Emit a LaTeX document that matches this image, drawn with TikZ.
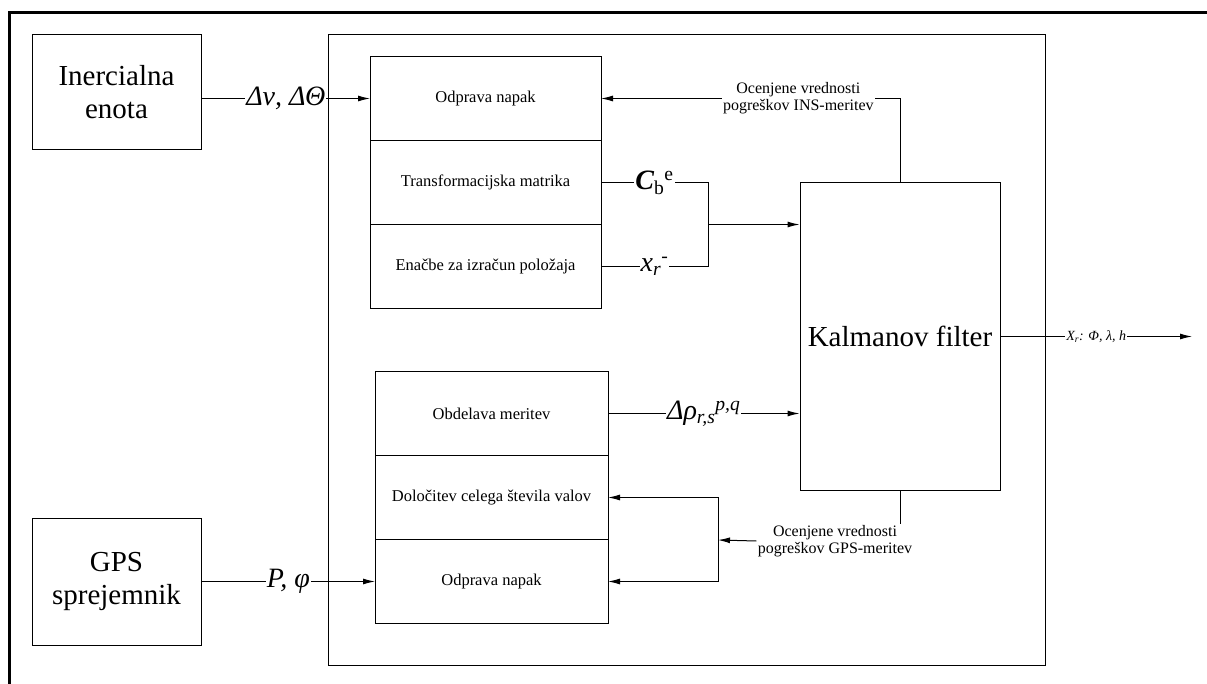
\documentclass[tikz,border=0pt]{standalone}
\usepackage{fontspec}
\setmainfont{Liberation Serif}
\usetikzlibrary{positioning,arrows.meta}

\tikzset{
  vhod/.style={draw, minimum width=169pt, align=center, font=\fontsize{29}{33}\selectfont},
  blok/.style={draw, outer sep=0pt, minimum height=84pt, font=\fontsize{16.5}{19}\selectfont},
  oznaka/.style={fill=white, inner sep=1pt, font=\fontsize{28}{32}\selectfont\itshape},
  opomba/.style={fill=white, inner sep=1pt, align=center, font=\fontsize{16}{17}\selectfont},
}

\begin{document}
\begin{tikzpicture}[x=1pt, y=-1pt, line width=1pt, >={Latex[length=12pt,width=6pt]}]
  \useasboundingbox (0,0) rectangle (1207,684);
  \draw[line width=3pt] (9,684) -- (9,13) -- (1207,13);

  \node(ine)[vhod, minimum height=115pt] at (116.5,92.5) {Inercialna\\enota};
  \node(gps)[vhod, minimum height=127pt] at (116.5,581.5) {GPS\\sprejemnik};
  \node(sis)[draw, minimum width=717pt, minimum height=630pt] at (686.5,350) {};

  \node(ins1)[blok, minimum width=231pt] at (485.5,98.5) {Odprava napak};
  \node(ins2)[blok, minimum width=231pt, below=0pt of ins1] {Transformacijska matrika};
  \node(ins3)[blok, minimum width=231pt, below=0pt of ins2] {Enačbe za izračun položaja};

  \node(gps1)[blok, minimum width=233pt] at (491.5,413.5) {Obdelava meritev};
  \node(gps2)[blok, minimum width=233pt, below=0pt of gps1] {Določitev celega števila valov};
  \node(gps3)[blok, minimum width=233pt, below=0pt of gps2] {Odprava napak};

  \node(kal)[draw, minimum width=200pt, minimum height=307pt, font=\fontsize{29}{32}\selectfont] at (900,336.5) {Kalmanov filter};
  \node(gfb)[opomba] at (835,541) {Ocenjene vrednosti\\pogreškov GPS-meritev};

  \coordinate(jn) at (708,224.5);
  \coordinate(jg) at (718,540);
  \coordinate(izh) at (1192,336.5);

  \draw[->] (ine.east |- ins1.west) -- (ins1.west) node[midway, oznaka] {Δν, ΔΘ};
  \draw[->] (gps.east |- gps3.west) -- (gps3.west) node[midway, oznaka] {P, φ};
  \draw (ins2.east) -- node[oznaka] {\textbf{C}\textsubscript{\textup{b}}\textsuperscript{\textup{e}}} (ins2.east -| jn)
    -- (ins3.east -| jn) -- node[oznaka] {x\textsubscript{r}\textsuperscript{-}} (ins3.east);
  \draw[->] (jn) -- (kal.west |- jn);
  \draw[->] (gps1.east) -- (kal.west |- gps1.east) node[midway, oznaka] {Δρ\textsubscript{r,s}\textsuperscript{p,q}};
  \draw[->] (kal.north) |- (ins1.east) node[pos=0.67, opomba] {Ocenjene vrednosti\\pogreškov INS-meritev};
  \draw (kal.south) -- (kal.south |- gfb.north);
  \draw[->] (gfb.west) -- (jg);
  \draw[->] (jg) |- (gps2.east);
  \draw[->] (jg) |- (gps3.east);
  \draw[->] (kal.east) -- (izh) node[midway, fill=white, inner sep=1pt, font=\fontsize{14}{16}\selectfont\itshape] {X\textsubscript{r}: Φ, λ, h};
\end{tikzpicture}
\end{document}
